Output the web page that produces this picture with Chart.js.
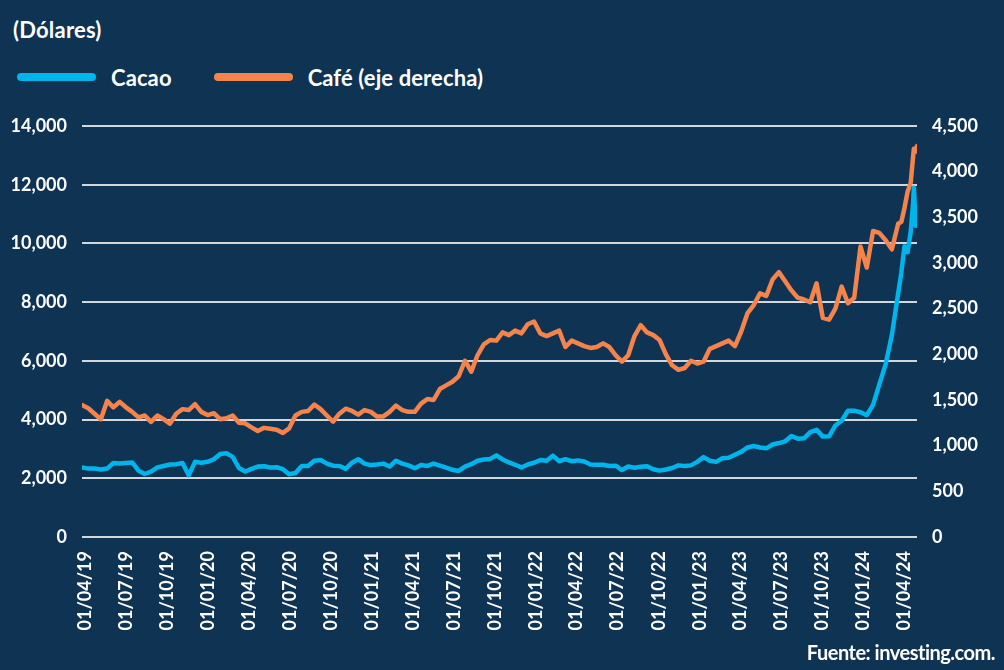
<!DOCTYPE html>
<html>
<head>
<meta charset="utf-8">
<script src="https://cdn.jsdelivr.net/npm/chart.js@4"></script>
<style>
  body { margin: 0; background: #0e3353; font-family: Lato, "Open Sans", sans-serif; }
  #wrap { position: relative; width: 1004px; height: 670px; background: #0e3353; overflow: hidden; }
  #chart { position: absolute; left: 0; top: 0; }
  .title { position: absolute; left: 13px; top: 16px; color: #fff; font-weight: 700; font-size: 22px; letter-spacing: 0.2px; }
  .legend { position: absolute; left: 17px; top: 63px; height: 28px; display: flex; align-items: center; color: #fff; font-weight: 700; font-size: 22px; letter-spacing: 0.1px; }
  .legend .sw { width: 79px; height: 8px; border-radius: 4px; margin-right: 15px; }
  .legend .item { display: flex; align-items: center; margin-right: 42px; }
  .source { position: absolute; right: 9px; top: 640px; color: #fff; font-weight: 700; font-size: 20px; letter-spacing: -0.5px; }
</style>
</head>
<body>
<div id="wrap">
  <div class="title">(Dólares)</div>
  <div class="legend" id="legend"></div>
  <canvas id="chart" width="1004" height="670"></canvas>
  <div class="source">Fuente: investing.com.</div>
</div>
<script>
// series sampled every two weeks from firstDate, plus a denser tail for the last weeks
const firstDate = '2019-03-25';
const stepDays = 14;

const cacao = [
  2370, 2330, 2330, 2300, 2330, 2520, 2500, 2520, 2540, 2260,
  2145, 2230, 2370, 2420, 2470, 2480, 2520, 2100, 2560, 2530,
  2560, 2650, 2830, 2850, 2730, 2350, 2230, 2320, 2400, 2410,
  2370, 2380, 2310, 2140, 2180, 2420, 2420, 2600, 2620, 2500,
  2430, 2420, 2320, 2530, 2650, 2500, 2450, 2470, 2500, 2400,
  2600, 2500, 2440, 2340, 2450, 2420, 2500, 2430, 2360, 2290,
  2250, 2400, 2480, 2600, 2640, 2660, 2780, 2640, 2540, 2460,
  2370, 2470, 2530, 2620, 2600, 2770, 2580, 2650, 2580, 2610,
  2570, 2470, 2460, 2460, 2420, 2430, 2280, 2400, 2360, 2390,
  2410, 2310, 2260, 2300, 2350, 2440, 2420, 2440, 2560, 2720,
  2600, 2560, 2680, 2700, 2800, 2900, 3050, 3100, 3050, 3020,
  3150, 3200, 3260, 3440, 3350, 3360, 3570, 3650, 3420, 3430,
  3800, 3960, 4300, 4300, 4250, 4150, 4500, 5200, 5880, 6880,
  8300
];

const cafe = [
  1445, 1410, 1350, 1290, 1490, 1420, 1480, 1420, 1370, 1310,
  1330, 1260, 1330, 1290, 1240, 1350, 1400, 1390, 1455, 1370,
  1335, 1355, 1290, 1300, 1330, 1250, 1245, 1200, 1160, 1195,
  1185, 1175, 1140, 1190, 1330, 1370, 1380, 1450, 1400, 1330,
  1262, 1350, 1405, 1380, 1340, 1390, 1370, 1318, 1320, 1370,
  1440, 1390, 1370, 1370, 1460, 1510, 1500, 1620, 1660, 1700,
  1760, 1930, 1810, 1990, 2110, 2157, 2150, 2240, 2210, 2260,
  2230, 2330, 2360, 2230, 2200, 2230, 2260, 2080, 2150, 2120,
  2090, 2070, 2080, 2120, 2080, 1990, 1920, 1990, 2200, 2320,
  2240, 2210, 2157, 2000, 1880, 1830, 1850, 1930, 1900, 1920,
  2060, 2090, 2120, 2150, 2090, 2250, 2450, 2540, 2668, 2640,
  2820, 2900, 2800, 2700, 2620, 2600, 2570, 2778, 2400, 2380,
  2500, 2741, 2560, 2620, 3180, 2950, 3350, 3330, 3250, 3150,
  3430
];

const tailDates = ['2024-03-25', '2024-04-01', '2024-04-08', '2024-04-15', '2024-04-20', '2024-04-22', '2024-04-26', '2024-04-29'];
const cacaoTail = [9000, 9900, 9700, 10400, 11300, 11900, 10600, 10900];
const cafeTail = [3450, 3600, 3780, 3880, 4150, 4250, 4220, 4280];

const tickLabels = ['01/04/19', '01/07/19', '01/10/19', '01/01/20', '01/04/20', '01/07/20', '01/10/20',
  '01/01/21', '01/04/21', '01/07/21', '01/10/21', '01/01/22', '01/04/22', '01/07/22', '01/10/22',
  '01/01/23', '01/04/23', '01/07/23', '01/10/23', '01/01/24', '01/04/24'];

const seriesNames = ['Cacao', 'Café (eje derecha)'];
const colors = ['#00b4ec', '#f5844c'];

// days counted from 01/04/2019
const DAY = 86400000;
const origin = Date.UTC(2019, 3, 1);
const isoDay = s => { const p = s.split('-'); return (Date.UTC(+p[0], +p[1] - 1, +p[2]) - origin) / DAY; };
const tickDay = s => { const p = s.split('/'); return (Date.UTC(2000 + +p[2], +p[1] - 1, +p[0]) - origin) / DAY; };

const start = isoDay(firstDate);
const toPoints = (main, tail) => main.map((v, i) => ({ x: start + i * stepDays, y: v }))
  .concat(tail.map((v, i) => ({ x: isoDay(tailDates[i]), y: v })));

const tickDays = tickLabels.map(tickDay);
const labelByDay = {};
tickLabels.forEach((l, i) => labelByDay[tickDays[i]] = l);

// html legend
const legend = document.getElementById('legend');
seriesNames.forEach((n, i) => {
  const it = document.createElement('div');
  it.className = 'item';
  it.innerHTML = '<span class="sw" style="background:' + colors[i] + '"></span><span>' + n + '</span>';
  legend.appendChild(it);
});

const tickFont = { family: 'Lato', weight: '700', size: 18 };

new Chart(document.getElementById('chart'), {
  type: 'line',
  data: {
    datasets: [
      { label: seriesNames[0], data: toPoints(cacao, cacaoTail), yAxisID: 'y', borderColor: colors[0], borderWidth: 4.5 },
      { label: seriesNames[1], data: toPoints(cafe, cafeTail), yAxisID: 'y2', borderColor: colors[1], borderWidth: 4.5 }
    ]
  },
  options: {
    responsive: false,
    animation: false,
    layout: { padding: { top: 126, left: 0, right: 0, bottom: 0 } },
    elements: { point: { radius: 0 }, line: { tension: 0, borderJoinStyle: 'round', borderCapStyle: 'round' } },
    plugins: { legend: { display: false }, tooltip: { enabled: false } },
    scales: {
      x: {
        type: 'linear',
        min: start,
        max: isoDay(tailDates[tailDates.length - 1]),
        afterBuildTicks: s => { s.ticks = tickDays.map(v => ({ value: v })); },
        afterFit: s => { s.height = 133; },
        grid: { display: false },
        border: { display: false },
        ticks: {
          color: '#fff', font: { family: 'Lato', weight: '700', size: 18 },
          minRotation: 90, maxRotation: 90, padding: 6, autoSkip: false,
          callback: v => labelByDay[v] || ''
        }
      },
      y: {
        position: 'left',
        min: 0, max: 14000,
        afterFit: s => { s.width = 82; },
        grid: { color: '#d2d7dc', lineWidth: 2, drawTicks: false },
        border: { display: false },
        ticks: { stepSize: 2000, color: '#fff', font: tickFont, padding: 15,
          callback: v => v.toLocaleString('en-US') }
      },
      y2: {
        position: 'right',
        min: 0, max: 4500,
        afterFit: s => { s.width = 87; },
        grid: { display: false, drawTicks: false },
        border: { display: false },
        ticks: { stepSize: 500, color: '#fff', font: tickFont, padding: 15,
          callback: v => v.toLocaleString('en-US') }
      }
    }
  }
});
</script>
</body>
</html>
